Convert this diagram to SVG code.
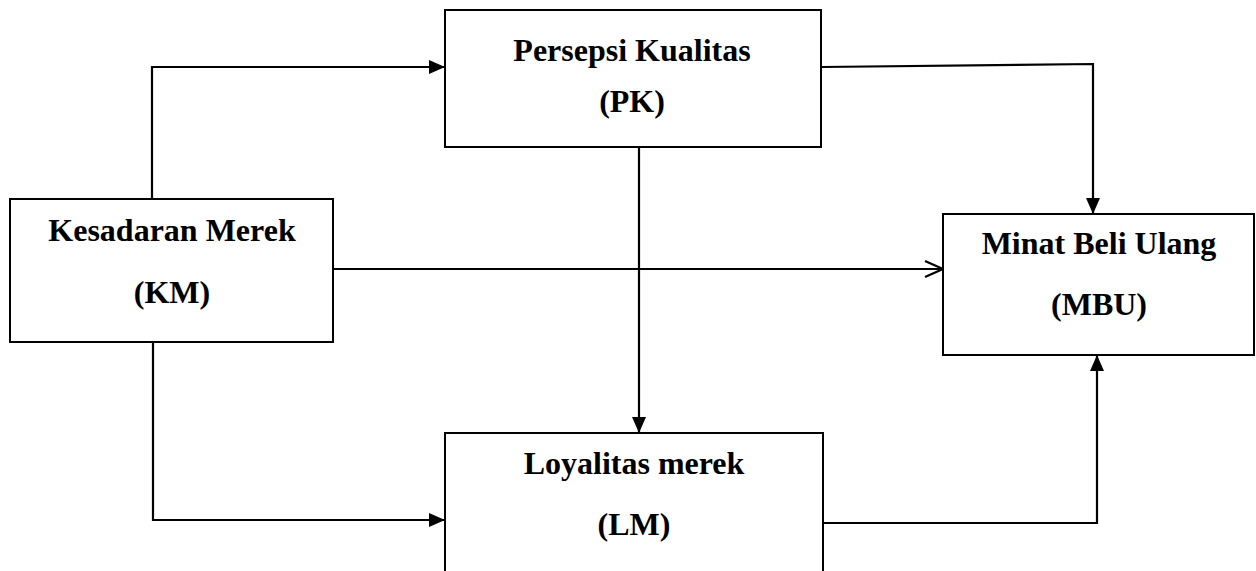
<svg xmlns="http://www.w3.org/2000/svg" width="1256" height="571" viewBox="0 0 1256 571">
<style>
.box{fill:#fff;stroke:#000;stroke-width:2}
.lbl{font-family:"Liberation Serif","Times New Roman",serif;font-weight:bold;font-size:32px;fill:#000;text-anchor:middle}
.c{fill:none;stroke:#000;stroke-width:2.2}
</style>
<defs>
<marker id="fa" viewBox="0 0 16 14" refX="16" refY="7" markerWidth="16" markerHeight="14" markerUnits="userSpaceOnUse" orient="auto">
<path d="M0,0 L16,7 L0,14 Z" fill="#000"/>
</marker>
<marker id="oa" viewBox="0 0 20 18" refX="19" refY="9" markerWidth="20" markerHeight="18" markerUnits="userSpaceOnUse" orient="auto">
<path d="M1,1 L19,9 L1,17" fill="none" stroke="#000" stroke-width="2.2"/>
</marker>
</defs>
<g id="connectors">
<polyline class="c" points="152,199 152,67 445,67" marker-end="url(#fa)"/>
<polyline class="c" points="153,342 153,520 445,520" marker-end="url(#fa)"/>
<line class="c" x1="639" y1="147" x2="639" y2="433" marker-end="url(#fa)"/>
<polyline class="c" points="822,67 1093,64 1093,214" marker-end="url(#fa)"/>
<line class="c" x1="333" y1="269" x2="943" y2="269" marker-end="url(#oa)"/>
<polyline class="c" points="823,523 1097,523 1097,355" marker-end="url(#fa)"/>
</g>
<g id="node-PK">
<rect class="box" x="445" y="10" width="376" height="137"/>
<text class="lbl" x="632" y="61">Persepsi Kualitas</text>
<text class="lbl" x="632" y="112">(PK)</text>
</g>
<g id="node-KM">
<rect class="box" x="10" y="199" width="323" height="143"/>
<text class="lbl" x="172" y="241">Kesadaran Merek</text>
<text class="lbl" x="172" y="303">(KM)</text>
</g>
<g id="node-MBU">
<rect class="box" x="943" y="214" width="311" height="141"/>
<text class="lbl" x="1099" y="254">Minat Beli Ulang</text>
<text class="lbl" x="1099" y="315">(MBU)</text>
</g>
<g id="node-LM">
<rect class="box" x="445" y="433" width="378" height="160"/>
<text class="lbl" x="634" y="474">Loyalitas merek</text>
<text class="lbl" x="634" y="535">(LM)</text>
</g>
</svg>
